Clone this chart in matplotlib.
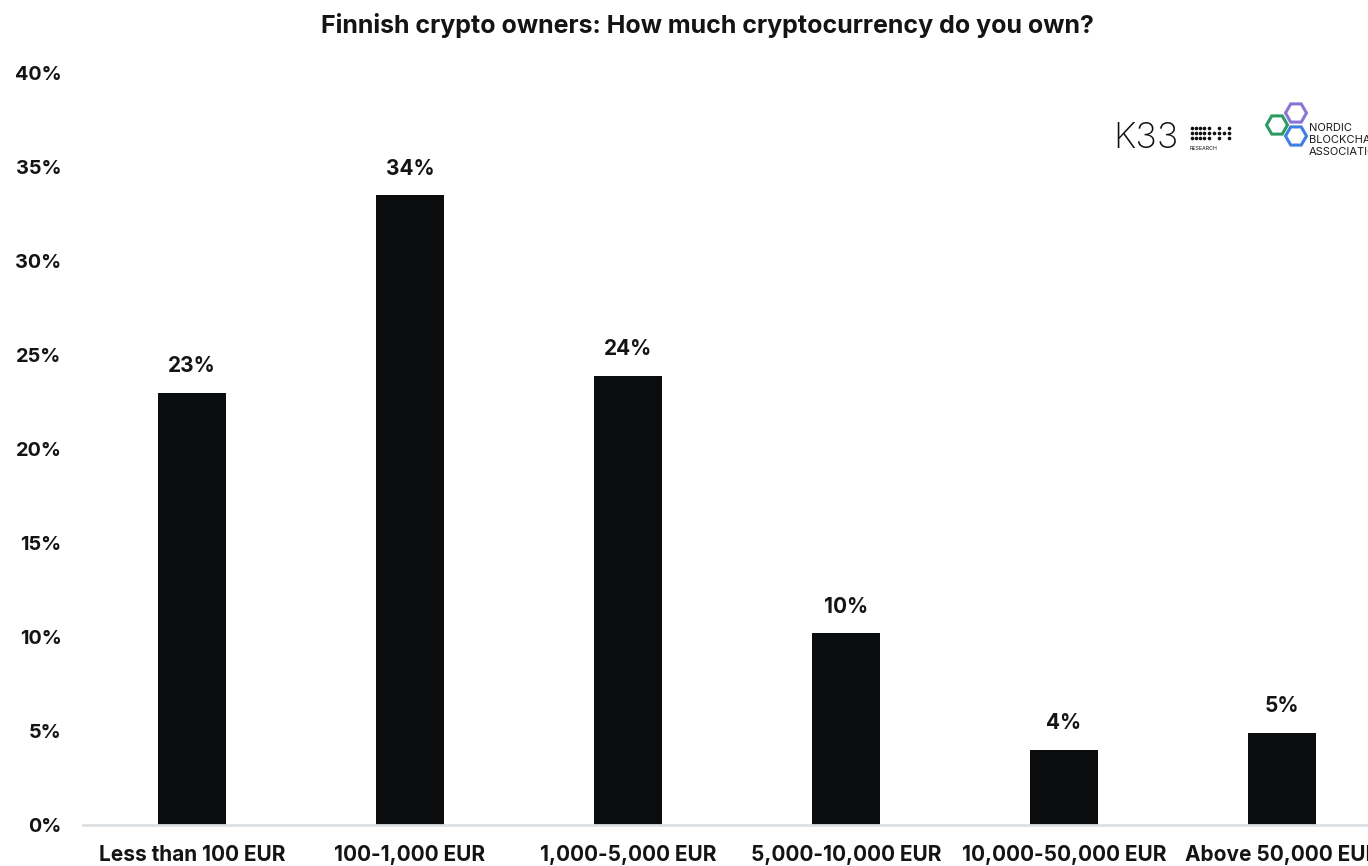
import matplotlib
matplotlib.use("Agg")
import matplotlib.pyplot as plt
from matplotlib.patches import RegularPolygon
from matplotlib.lines import Line2D

plt.rcParams['font.family'] = ['Inter', 'DejaVu Sans']

# data
categories = ['Less than 100 EUR', '100-1,000 EUR', '1,000-5,000 EUR',
              '5,000-10,000 EUR', '10,000-50,000 EUR', 'Above 50,000 EUR']
shares = [23.0, 33.5, 23.9, 10.2, 4.0, 4.9]
labels = ['23%', '34%', '24%', '10%', '4%', '5%']
yticks = [0, 5, 10, 15, 20, 25, 30, 35, 40]

text_col = '#141414'
bar_col = '#0b0c0e'

fig = plt.figure(figsize=(13.68, 8.66), dpi=100)
ax = fig.add_axes([83 / 1368, 1 - 825 / 866, 1 - 83 / 1368, (825 - 73) / 866])

x = range(len(categories))
ax.bar(x, shares, width=0.31, color=bar_col, zorder=2)

for xi, v, lab in zip(x, shares, labels):
    ax.annotate(lab, (xi, v), xytext=(0, 12), textcoords='offset points',
                ha='center', va='bottom', fontsize=15, fontweight='bold', color=text_col)

ax.set_xlim(-0.5, 5.395)
ax.set_ylim(0, 40)
ax.set_yticks(yticks)
ax.set_yticklabels([f'{t}%' for t in yticks])
ax.set_xticks(list(x))
ax.set_xticklabels(categories)

for s in ['top', 'right', 'left']:
    ax.spines[s].set_visible(False)
ax.spines['bottom'].set_color('#dde1e3')
ax.spines['bottom'].set_linewidth(2)
ax.tick_params(axis='both', length=0, labelcolor=text_col)
ax.tick_params(axis='y', pad=15.5, labelsize=14.3)
ax.tick_params(axis='x', pad=14.5, labelsize=15)
for t in ax.get_xticklabels() + ax.get_yticklabels():
    t.set_fontweight('bold')

fig.text(0.517, 1 - 25 / 866, 'Finnish crypto owners: How much cryptocurrency do you own?',
         ha='center', va='center', fontsize=18, fontweight='bold', color=text_col)

# K33 research logo
fig.text(1113 / 1368, 1 - 139 / 866, 'K33', ha='left', va='center', fontsize=26,
         color='#111111', fontweight='light')
dots_x = [1192, 1196, 1200, 1204, 1209, 1214, 1219, 1224, 1229]
for i, dx in enumerate(dots_x):
    rows = [128, 133, 138] if (i < 4 or i % 2 == 0) else [133]
    for dy in rows:
        fig.add_artist(Line2D([dx / 1368], [1 - dy / 866], marker='o', markersize=1.6,
                              color='#111111', linestyle='none'))
fig.text(1190 / 1368, 1 - 148 / 866, 'RESEARCH', ha='left', va='center', fontsize=3.8,
         color='#111111')

# Nordic Blockchain Association logo (positions in inches so hexagons stay regular)
hexes = [((1277, 125), '#2e9a63'), ((1296, 113), '#8a74d6'), ((1296, 136), '#3f7fe0')]
for (hx, hy), c in hexes:
    fig.add_artist(RegularPolygon((hx / 100, (866 - hy) / 100), numVertices=6,
                                  radius=0.105, orientation=0.5236,
                                  transform=fig.dpi_scale_trans, fill=False,
                                  edgecolor=c, linewidth=2.2))
for i, word in enumerate(['NORDIC', 'BLOCKCHAIN', 'ASSOCIATION']):
    fig.text(1309 / 1368, 1 - (128 + 12 * i) / 866, word, ha='left', va='center',
             fontsize=8, color='#1a1a1a')

fig.savefig('out.png', dpi=100)
